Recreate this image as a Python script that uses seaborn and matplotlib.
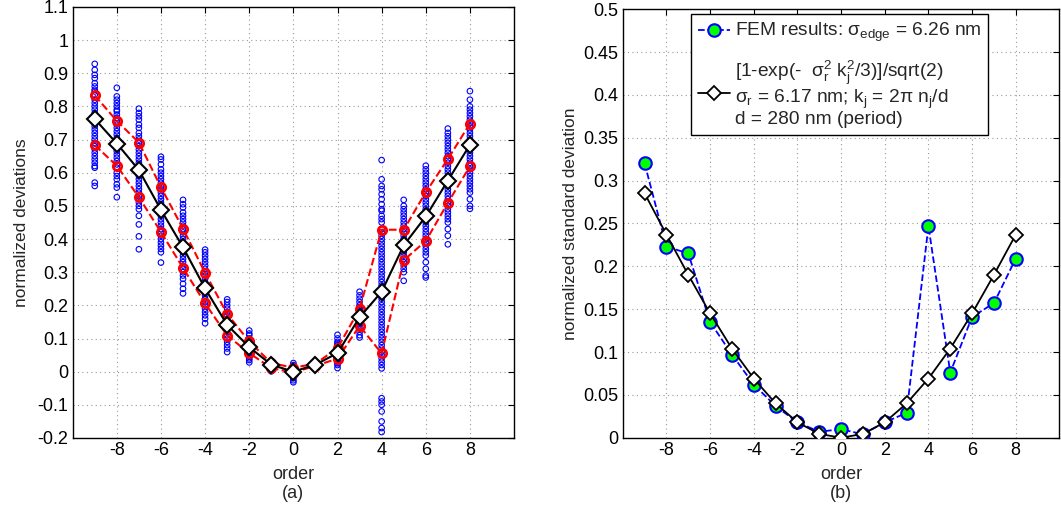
import numpy as np
import pandas as pd
import matplotlib
matplotlib.use("Agg")
import matplotlib.pyplot as plt
import seaborn as sns

# ---------------- data ----------------
orders = list(range(-9, 9))

scatter_values = {
    -9: [0.928, 0.91, 0.895, 0.885, 0.87, 0.86, 0.85, 0.845, 0.835, 0.82, 0.81, 0.80, 0.79, 0.78, 0.77, 0.76,
         0.75, 0.74, 0.73, 0.72, 0.71, 0.70, 0.69, 0.68, 0.67, 0.66, 0.65, 0.64, 0.63, 0.62, 0.615, 0.57, 0.56],
    -8: [0.856, 0.83, 0.82, 0.81, 0.80, 0.79, 0.785, 0.775, 0.765, 0.755, 0.745, 0.735, 0.725, 0.715, 0.705,
         0.695, 0.685, 0.675, 0.665, 0.655, 0.645, 0.635, 0.625, 0.615, 0.60, 0.59, 0.58, 0.565, 0.555, 0.526],
    -7: [0.793, 0.78, 0.77, 0.76, 0.745, 0.735, 0.72, 0.71, 0.70, 0.69, 0.68, 0.67, 0.66, 0.65, 0.64, 0.63,
         0.62, 0.61, 0.60, 0.59, 0.58, 0.57, 0.56, 0.55, 0.54, 0.53, 0.52, 0.51, 0.50, 0.49, 0.47, 0.444,
         0.408, 0.369],
    -6: [0.648, 0.64, 0.625, 0.61, 0.60, 0.59, 0.58, 0.57, 0.56, 0.55, 0.54, 0.53, 0.52, 0.51, 0.50, 0.49,
         0.48, 0.47, 0.46, 0.45, 0.44, 0.43, 0.42, 0.41, 0.40, 0.39, 0.38, 0.37, 0.36, 0.329],
    -5: [0.518, 0.505, 0.495, 0.48, 0.47, 0.46, 0.45, 0.44, 0.43, 0.42, 0.41, 0.40, 0.39, 0.38, 0.37, 0.36,
         0.35, 0.34, 0.33, 0.32, 0.31, 0.30, 0.29, 0.28, 0.265, 0.25, 0.236],
    -4: [0.368, 0.36, 0.35, 0.34, 0.33, 0.32, 0.31, 0.30, 0.29, 0.28, 0.27, 0.26, 0.25, 0.24, 0.23, 0.22,
         0.21, 0.20, 0.19, 0.18, 0.17, 0.16, 0.146],
    -3: [0.218, 0.21, 0.20, 0.19, 0.18, 0.17, 0.16, 0.15, 0.14, 0.13, 0.12, 0.11, 0.10, 0.09, 0.08, 0.07, 0.059],
    -2: [0.124, 0.115, 0.11, 0.10, 0.095, 0.09, 0.085, 0.08, 0.075, 0.07, 0.065, 0.06, 0.055, 0.05, 0.045,
         0.04, 0.035, 0.028],
    -1: [0.034, 0.03, 0.027, 0.024, 0.02, 0.017, 0.014, 0.01, 0.007, 0.004, 0.001],
    0: [0.026, 0.02, 0.015, 0.01, 0.005, 0.0, -0.005, -0.01, -0.015, -0.02, -0.026, -0.032],
    1: [0.03, 0.027, 0.024, 0.021, 0.018, 0.015, 0.012],
    2: [0.111, 0.1, 0.09, 0.085, 0.08, 0.075, 0.07, 0.065, 0.06, 0.055, 0.05, 0.045, 0.04, 0.035, 0.03,
        0.025, 0.02, 0.011],
    3: [0.241, 0.23, 0.22, 0.21, 0.2, 0.195, 0.19, 0.185, 0.18, 0.175, 0.17, 0.165, 0.16, 0.155, 0.15,
        0.145, 0.14, 0.13, 0.12, 0.11, 0.103],
    4: [0.638, 0.58, 0.56, 0.55, 0.535, 0.52, 0.505, 0.49, 0.485, 0.47, 0.46, 0.45, 0.43, 0.42, 0.41, 0.40,
        0.39, 0.38, 0.37, 0.36, 0.35, 0.34, 0.33, 0.32, 0.31, 0.30, 0.29, 0.28, 0.27, 0.26, 0.25, 0.24, 0.23,
        0.22, 0.21, 0.2, 0.19, 0.18, 0.17, 0.16, 0.15, 0.14, 0.13, 0.12, 0.11, 0.10, 0.09, 0.08, 0.07, 0.06,
        0.05, 0.04, 0.03, 0.02, 0.01, -0.08, -0.09, -0.1, -0.12, -0.15, -0.17, -0.182],
    5: [0.518, 0.5, 0.49, 0.48, 0.47, 0.46, 0.45, 0.44, 0.43, 0.42, 0.41, 0.40, 0.39, 0.38, 0.37, 0.36, 0.35,
        0.34, 0.33, 0.32, 0.31, 0.30, 0.274],
    6: [0.621, 0.61, 0.6, 0.59, 0.58, 0.57, 0.56, 0.55, 0.54, 0.53, 0.52, 0.51, 0.50, 0.49, 0.48, 0.47, 0.46,
        0.45, 0.44, 0.43, 0.42, 0.41, 0.40, 0.39, 0.38, 0.37, 0.36, 0.35, 0.33, 0.31, 0.29, 0.284],
    7: [0.733, 0.72, 0.71, 0.70, 0.69, 0.68, 0.67, 0.66, 0.65, 0.64, 0.63, 0.62, 0.61, 0.60, 0.59, 0.58, 0.57,
        0.56, 0.55, 0.54, 0.53, 0.52, 0.51, 0.50, 0.49, 0.48, 0.47, 0.46, 0.45, 0.43, 0.41, 0.384],
    8: [0.846, 0.82, 0.80, 0.79, 0.78, 0.77, 0.76, 0.75, 0.74, 0.73, 0.72, 0.71, 0.70, 0.69, 0.68, 0.67, 0.66,
        0.65, 0.64, 0.63, 0.62, 0.61, 0.60, 0.59, 0.58, 0.57, 0.56, 0.55, 0.54, 0.52, 0.50, 0.491],
}

mean_dev = [0.762, 0.688, 0.608, 0.488, 0.375, 0.251, 0.141, 0.074, 0.021,
            0.0, 0.021, 0.056, 0.164, 0.241, 0.381, 0.468, 0.576, 0.684]
upper_dev = [0.833, 0.756, 0.691, 0.556, 0.431, 0.298, 0.174, 0.091, 0.026,
             0.012, 0.024, 0.071, 0.189, 0.428, 0.428, 0.541, 0.641, 0.748]
lower_dev = [0.683, 0.621, 0.526, 0.421, 0.313, 0.206, 0.109, 0.056, 0.011,
             -0.003, 0.018, 0.039, 0.138, 0.055, 0.336, 0.394, 0.509, 0.619]

fem_std = [0.32, 0.223, 0.215, 0.135, 0.097, 0.062, 0.037, 0.018, 0.007,
           0.01, 0.004, 0.018, 0.029, 0.247, 0.076, 0.141, 0.157, 0.209]
theory_std = [0.285, 0.237, 0.19, 0.145, 0.104, 0.069, 0.040, 0.018, 0.0045,
              0.0, 0.0045, 0.018, 0.040, 0.069, 0.104, 0.145, 0.19, 0.237]

left_yticks = [-0.2, -0.1, 0, 0.1, 0.2, 0.3, 0.4, 0.5, 0.6, 0.7, 0.8, 0.9, 1, 1.1]
left_yticklabels = ["-0.2", "-0.1", "0", "0.1", "0.2", "0.3", "0.4", "0.5", "0.6", "0.7", "0.8", "0.9", "1", "1.1"]
right_yticks = [0, 0.05, 0.1, 0.15, 0.2, 0.25, 0.3, 0.35, 0.4, 0.45, 0.5]
right_yticklabels = ["0", "0.05", "0.1", "0.15", "0.2", "0.25", "0.3", "0.35", "0.4", "0.45", "0.5"]
xticks = [-8, -6, -4, -2, 0, 2, 4, 6, 8]
xticklabels = ["-8", "-6", "-4", "-2", "0", "2", "4", "6", "8"]

# ---------------- style ----------------
sns.set_style("white")
plt.rcParams['font.family'] = ['Liberation Sans', 'DejaVu Sans']
plt.rcParams['mathtext.fontset'] = 'custom'
plt.rcParams['mathtext.rm'] = 'Liberation Sans'
plt.rcParams['mathtext.it'] = 'Liberation Sans'
plt.rcParams['mathtext.default'] = 'regular'

TICK_FS = 13
LABEL_FS = 12.5

scatter_df = pd.DataFrame(
    [(o, v) for o in orders for v in scatter_values[o]], columns=["order", "value"])
summary_df = pd.DataFrame({"order": orders, "mean": mean_dev, "upper": upper_dev,
                           "lower": lower_dev, "fem": fem_std, "theory": theory_std})

fig = plt.figure(figsize=(10.61, 5.09), dpi=100)
ax1 = fig.add_axes([0.0685, 0.1395, 0.4160, 0.8470])
ax2 = fig.add_axes([0.5870, 0.1400, 0.4115, 0.8420])


def style_axes(ax):
    ax.grid(True, linestyle=(0, (1, 3)), color="#999999", linewidth=0.8)
    ax.set_axisbelow(True)
    for s in ax.spines.values():
        s.set_color("black")
        s.set_linewidth(1.0)
    ax.tick_params(direction="in", top=True, right=True, length=4, width=0.8,
                   labelsize=TICK_FS, colors="black", pad=3)


# ---------- left panel ----------
style_axes(ax1)
sns.scatterplot(data=scatter_df, x="order", y="value", ax=ax1, marker="o", s=16,
                facecolors="none", edgecolor="#0000ff", linewidth=0.8, zorder=2, legend=False)
for col in ["upper", "lower"]:
    sns.lineplot(data=summary_df, x="order", y=col, ax=ax1, color="red", linestyle="--",
                 linewidth=1.5, marker="o", markersize=6, markerfacecolor="none",
                 markeredgecolor="red", markeredgewidth=2.0, sort=False, estimator=None,
                 zorder=3, legend=False)
sns.lineplot(data=summary_df, x="order", y="mean", ax=ax1, color="black", linewidth=1.5,
             marker="D", markersize=8, markerfacecolor="white", markeredgecolor="black",
             markeredgewidth=1.5, sort=False, estimator=None, zorder=4, legend=False)
ax1.set_xlim(-10, 10)
ax1.set_ylim(-0.2, 1.1)
ax1.set_xticks(xticks)
ax1.set_xticklabels(xticklabels)
ax1.set_yticks(left_yticks)
ax1.set_yticklabels(left_yticklabels)
ax1.set_xlabel("order\n(a)", fontsize=TICK_FS, linespacing=1.15, labelpad=5)
ax1.set_ylabel("normalized deviations", fontsize=LABEL_FS, labelpad=6)

# ---------- right panel ----------
style_axes(ax2)
sns.lineplot(data=summary_df, x="order", y="fem", ax=ax2, color="#0000ff", linestyle="--",
             linewidth=1.3, marker="o", markersize=9, markerfacecolor="#00ff00",
             markeredgecolor="#0000ff", markeredgewidth=1.5, sort=False, estimator=None,
             label=r"FEM results: $\sigma_{edge}$ = 6.26 nm", zorder=3)
sns.lineplot(data=summary_df, x="order", y="theory", ax=ax2, color="black", linewidth=1.3,
             marker="D", markersize=7, markerfacecolor="white", markeredgecolor="black",
             markeredgewidth=1.3, sort=False, estimator=None,
             label="[1-exp(-  $\\sigma_r^2$ $k_j^2$/3)]/sqrt(2)\n$\\sigma_r$ = 6.17 nm; $k_j$ = 2\u03c0 $n_j$/d\nd = 280 nm (period)",
             zorder=4)
ax2.set_xlim(-10, 10)
ax2.set_ylim(0, 0.5)
ax2.set_xticks(xticks)
ax2.set_xticklabels(xticklabels)
ax2.set_yticks(right_yticks)
ax2.set_yticklabels(right_yticklabels)
ax2.set_xlabel("order\n(b)", fontsize=TICK_FS, linespacing=1.15, labelpad=5)
ax2.set_ylabel("normalized standard deviation", fontsize=LABEL_FS, labelpad=4)
leg = ax2.legend(loc="upper left", bbox_to_anchor=(0.156, 0.988), fontsize=13.8, frameon=True,
                 fancybox=False, edgecolor="black", framealpha=1, handlelength=1.7,
                 handletextpad=0.25, borderpad=0.35, labelspacing=0.75, borderaxespad=0.0)
leg.get_frame().set_linewidth(1.0)
for t in leg.get_texts():
    t.set_linespacing(1.05)

fig.savefig("out.png", dpi=100)
